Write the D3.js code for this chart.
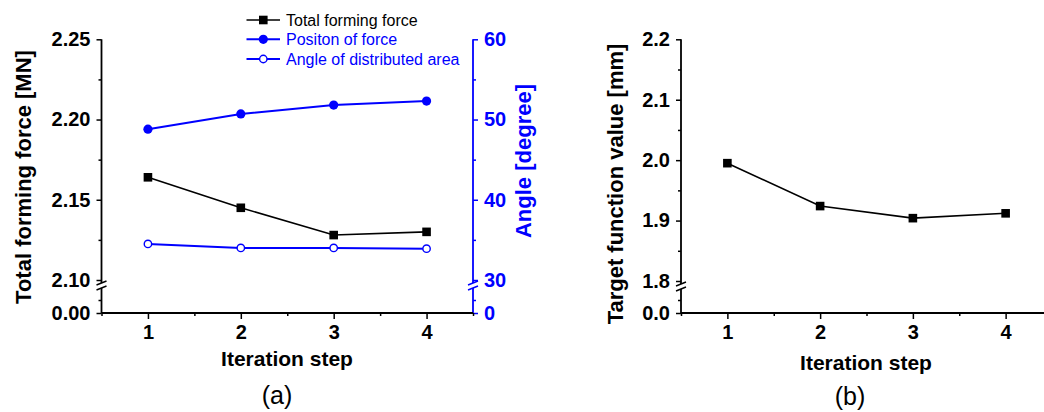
<!DOCTYPE html>
<html><head><meta charset="utf-8">
<script src="https://cdn.jsdelivr.net/npm/d3@7"></script>
<style>
body{margin:0;background:#fff;}
svg{display:block;font-family:"Liberation Sans",Arial,sans-serif;}
</style></head>
<body><svg id="c" width="1044" height="412"></svg>
<script>
// ---- data ----
const steps = [1, 2, 3, 4];
const totalForce = [2.164, 2.145, 2.128, 2.130];      // MN
const positionOfForce = [48.8, 50.7, 51.8, 52.3];     // degree
const angleArea = [34.5, 34.0, 34.0, 33.9];           // degree
const targetValue = [1.995, 1.924, 1.904, 1.912];     // mm
const forceTicks = [2.10, 2.15, 2.20, 2.25];
const forceMinor = [2.125, 2.175, 2.225];
const angleTicks = [30, 40, 50, 60];
const angleMinor = [35, 45, 55];
const targetTicks = [1.8, 1.9, 2.0, 2.1, 2.2];
const targetMinor = [1.85, 1.95, 2.05, 2.15];
const xMinor = [0.5, 1.5, 2.5, 3.5, 4.5];
const legendLabels = ["Total forming force", "Positon of force", "Angle of distributed area"];

const svg = d3.select("#c");
const BLUE = "#0000ff";
const TOP = 39.3, BRK = 280, BOT = 313;
const tickFont = "bold 20px 'Liberation Sans', Arial, sans-serif";

function styleAxis(g, color) {
  g.select(".domain").remove();
  g.selectAll("line").attr("stroke", color).attr("stroke-width", 1.5);
  g.selectAll("text").attr("fill", color).style("font", tickFont);
}

function yAxisBroken(x, upper, lower, ticks, minor, fmt, lowFmt, side, color) {
  const g = svg.append("g");
  const mk = side === "left" ? d3.axisLeft : d3.axisRight;
  const a1 = g.append("g").attr("transform", `translate(${x},0)`)
    .call(mk(upper).tickValues(ticks).tickFormat(fmt).tickSize(5).tickPadding(6).tickSizeOuter(0));
  styleAxis(a1, color);
  const a2 = g.append("g").attr("transform", `translate(${x},0)`)
    .call(mk(upper).tickValues(minor).tickFormat("").tickSize(3).tickSizeOuter(0));
  styleAxis(a2, color);
  const d = lower.domain();
  const a3 = g.append("g").attr("transform", `translate(${x},0)`)
    .call(mk(lower).tickValues([d[0]]).tickFormat(lowFmt).tickSize(5).tickPadding(6).tickSizeOuter(0));
  styleAxis(a3, color);
  const a4 = g.append("g").attr("transform", `translate(${x},0)`)
    .call(mk(lower).tickValues([(d[0] + d[1]) / 2]).tickFormat("").tickSize(3).tickSizeOuter(0));
  styleAxis(a4, color);
  // axis line segments with break
  const yTop = upper.range()[1], yBrk = upper.range()[0];
  g.append("line").attr("x1", x).attr("x2", x).attr("y1", yTop).attr("y2", yBrk + 3)
    .attr("stroke", color).attr("stroke-width", 1.8);
  g.append("line").attr("x1", x).attr("x2", x).attr("y1", yBrk + 8).attr("y2", lower.range()[0])
    .attr("stroke", color).attr("stroke-width", 1.8);
  [yBrk + 3, yBrk + 8].forEach(yy => {
    g.append("line").attr("x1", x - 5).attr("x2", x + 5).attr("y1", yy + 2).attr("y2", yy - 2)
      .attr("stroke", color).attr("stroke-width", 1.5);
  });
}

function xAxis(xs, y) {
  const g = svg.append("g").attr("transform", `translate(0,${y})`);
  const a = g.append("g").call(d3.axisBottom(xs).tickValues(steps).tickFormat(d3.format("d")).tickSize(6).tickPadding(6).tickSizeOuter(0));
  styleAxis(a, "#000");
  const m = g.append("g").call(d3.axisBottom(xs).tickValues(xMinor).tickFormat("").tickSize(3).tickSizeOuter(0));
  styleAxis(m, "#000");
  g.append("line").attr("x1", xs.range()[0]).attr("x2", xs.range()[1]).attr("y1", 0).attr("y2", 0)
    .attr("stroke", "#000").attr("stroke-width", 1.8);
}

function square(g, x, y) {
  g.append("rect").attr("x", x - 4.3).attr("y", y - 4.3).attr("width", 8.6).attr("height", 8.6).attr("fill", "#000");
}
function dot(g, x, y) {
  g.append("circle").attr("cx", x).attr("cy", y).attr("r", 4.6).attr("fill", BLUE);
}
function ring(g, x, y) {
  g.append("circle").attr("cx", x).attr("cy", y).attr("r", 3.7).attr("fill", "#fff").attr("stroke", BLUE).attr("stroke-width", 1.4);
}

function vTitle(x, y, text, color) {
  svg.append("text").attr("transform", `translate(${x},${y}) rotate(-90)`)
    .attr("text-anchor", "middle").attr("dy", "0.35em")
    .attr("fill", color).style("font", "bold 22px 'Liberation Sans', Arial, sans-serif").text(text);
}
function hText(x, y, text, font) {
  svg.append("text").attr("x", x).attr("y", y).attr("text-anchor", "middle")
    .style("font", font).text(text);
}

// ================= Panel (a) =================
const xa = d3.scaleLinear().domain([0.5, 4.5]).range([101.5, 473]);
const yForce = d3.scaleLinear().domain([2.10, 2.25]).range([BRK, TOP]);
const yForceLow = d3.scaleLinear().domain([0, 0.05]).range([BOT, BOT - 26]);
const yAngle = d3.scaleLinear().domain([30, 60]).range([BRK, TOP]);
const yAngleLow = d3.scaleLinear().domain([0, 10]).range([BOT, BOT - 26]);

yAxisBroken(101.5, yForce, yForceLow, forceTicks, forceMinor, d3.format(".2f"), d3.format(".2f"), "left", "#000");
yAxisBroken(473, yAngle, yAngleLow, angleTicks, angleMinor, d3.format("d"), d3.format("d"), "right", BLUE);
xAxis(xa, BOT);

const pa = svg.append("g");
const lineF = d3.line().x((d, i) => xa(steps[i])).y(d => yForce(d));
const lineA = d3.line().x((d, i) => xa(steps[i])).y(d => yAngle(d));
pa.append("path").attr("d", lineF(totalForce)).attr("fill", "none").attr("stroke", "#000").attr("stroke-width", 1.6);
pa.append("path").attr("d", lineA(positionOfForce)).attr("fill", "none").attr("stroke", BLUE).attr("stroke-width", 2);
pa.append("path").attr("d", lineA(angleArea)).attr("fill", "none").attr("stroke", BLUE).attr("stroke-width", 2);
totalForce.forEach((v, i) => square(pa, xa(steps[i]), yForce(v)));
positionOfForce.forEach((v, i) => dot(pa, xa(steps[i]), yAngle(v)));
angleArea.forEach((v, i) => ring(pa, xa(steps[i]), yAngle(v)));

vTitle(23, 177, "Total forming force [MN]", "#000");
vTitle(523, 161, "Angle [degree]", BLUE);
hText(287, 366, "Iteration step", "bold 21px 'Liberation Sans', Arial, sans-serif");
hText(277, 404, "(a)", "25px 'Liberation Sans', Arial, sans-serif");

// legend
const lg = svg.append("g");
const legendColors = ["#000", BLUE, BLUE];
const legendMarks = [square, dot, ring];
legendLabels.forEach((t, i) => {
  const y = [20, 39.3, 59][i];
  lg.append("line").attr("x1", 246.5).attr("x2", 280).attr("y1", y).attr("y2", y)
    .attr("stroke", legendColors[i]).attr("stroke-width", i ? 2 : 1.6);
  legendMarks[i](lg, 263.3, y);
  lg.append("text").attr("x", 286).attr("y", y).attr("dy", "0.36em").attr("fill", legendColors[i])
    .style("font", "16px 'Liberation Sans', Arial, sans-serif").text(t);
});

// ================= Panel (b) =================
const xb = d3.scaleLinear().domain([0.5, 4.5]).range([681, 1052]);
const yT = d3.scaleLinear().domain([1.8, 2.2]).range([281, TOP]);
const yTLow = d3.scaleLinear().domain([0, 0.1]).range([BOT, BOT - 26]);
yAxisBroken(681, yT, yTLow, targetTicks, targetMinor, d3.format(".1f"), d3.format(".1f"), "left", "#000");
xAxis(xb, BOT);
const pb = svg.append("g");
const lineT = d3.line().x((d, i) => xb(steps[i])).y(d => yT(d));
pb.append("path").attr("d", lineT(targetValue)).attr("fill", "none").attr("stroke", "#000").attr("stroke-width", 1.6);
targetValue.forEach((v, i) => square(pb, xb(steps[i]), yT(v)));

vTitle(615, 184, "Target function value [mm]", "#000");
hText(866, 370, "Iteration step", "bold 21px 'Liberation Sans', Arial, sans-serif");
hText(850, 405, "(b)", "25px 'Liberation Sans', Arial, sans-serif");
</script></body></html>
